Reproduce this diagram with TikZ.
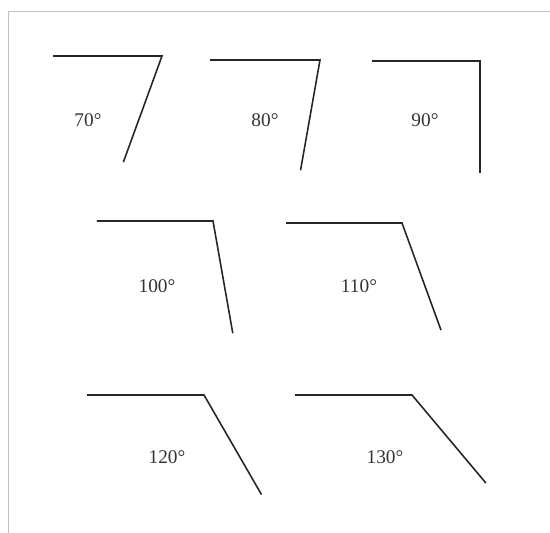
\documentclass[tikz,border=0pt]{standalone}
\usepackage{fontspec}
\setmainfont{Liberation Serif}
\tikzset{
  leg/.style={line width=0.9pt, draw=black!85},
  deg/.style={font=\fontsize{11pt}{13pt}\selectfont, text=black!80},
  scanframe/.style={draw=black!25, line width=0.4pt}
}
\begin{document}
\begin{tikzpicture}[x=0.2mm,y=0.2mm]
      \useasboundingbox (0,0) rectangle (550,533);
      \draw[scanframe] (8,0) -- (8,522) -- (550,522);
      \coordinate (v70) at (162,477);
      \coordinate (v80) at (320,473);
      \coordinate (v90) at (480,472);
      \coordinate (v100) at (213,312);
      \coordinate (v110) at (402,310);
      \coordinate (v120) at (204,138);
      \coordinate (v130) at (412,138);
      \begin{scope}[leg]
        \draw (v70) ++(-109,0) -- (v70) -- ++(250:113);
        \draw (v80) ++(-110,0) -- (v80) -- ++(260:112);
        \draw (v90) ++(-108,0) -- (v90) -- ++(270:112);
        \draw (v100) ++(-116,0) -- (v100) -- ++(280:114);
        \draw (v110) ++(-116,0) -- (v110) -- ++(290:114);
        \draw (v120) ++(-117,0) -- (v120) -- ++(300:115);
        \draw (v130) ++(-117,0) -- (v130) -- ++(310:115);
      \end{scope}
      \node[deg] (l70) at (88,413) {70°};
      \node[deg] (l80) at (265,413) {80°};
      \node[deg] (l90) at (425,413) {90°};
      \node[deg] (l100) at (157,247) {100°};
      \node[deg] (l110) at (359,247) {110°};
      \node[deg] (l120) at (167,76) {120°};
      \node[deg] (l130) at (385,76) {130°};
    \end{tikzpicture}
\end{document}
